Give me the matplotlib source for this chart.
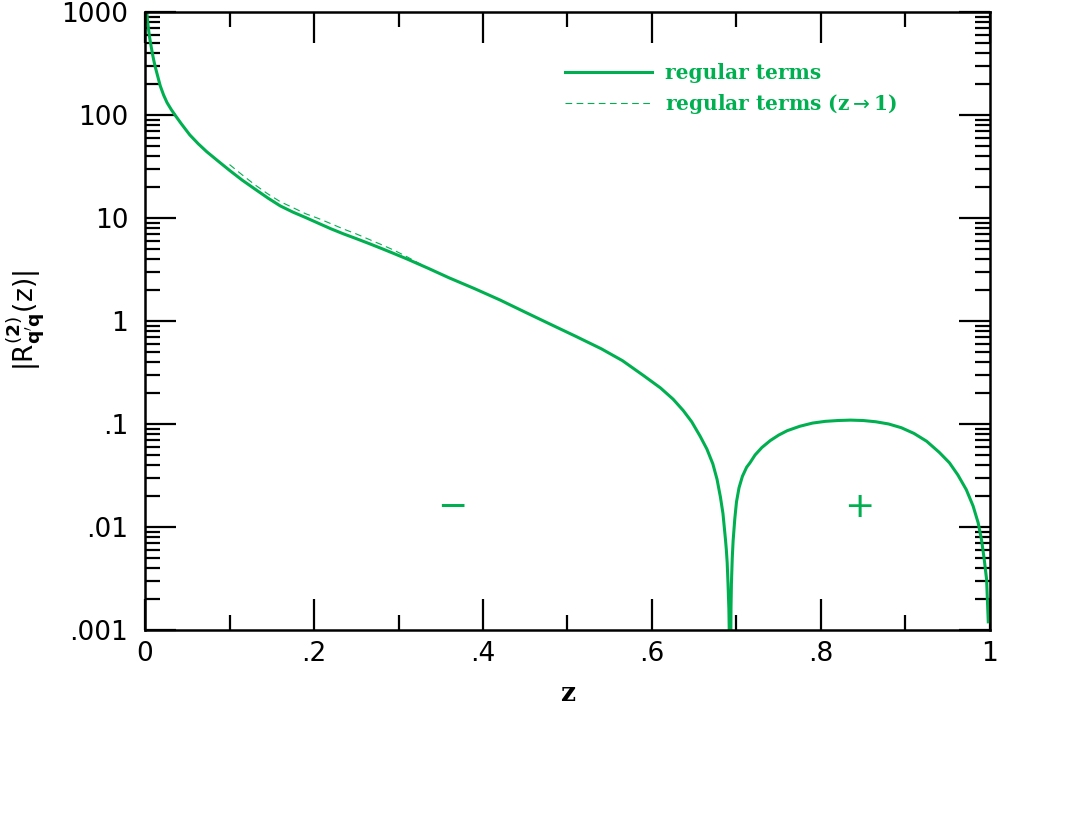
import matplotlib
matplotlib.use("Agg")
import matplotlib.pyplot as plt
from matplotlib.ticker import FixedLocator, LogLocator, NullFormatter

green = '#00b050'

# solid curve: |R(z)|
z_reg = [0.0015, 0.002, 0.003, 0.004, 0.005, 0.006, 0.0075, 0.009, 0.0105, 0.012,
         0.015, 0.018, 0.022, 0.026, 0.031, 0.036, 0.043, 0.053, 0.063, 0.073,
         0.085, 0.1, 0.115, 0.132, 0.146, 0.16, 0.175, 0.19, 0.205, 0.22,
         0.235, 0.25, 0.265, 0.28, 0.295, 0.31, 0.335, 0.36, 0.39, 0.42,
         0.45, 0.48, 0.51, 0.54, 0.565, 0.59, 0.61, 0.625, 0.637, 0.647,
         0.657, 0.665, 0.672, 0.677, 0.681, 0.684, 0.687, 0.688, 0.689, 0.690,
         0.691, 0.6922, 0.6928, 0.6935, 0.694, 0.695, 0.696, 0.698, 0.700, 0.703,
         0.707, 0.712, 0.716, 0.722, 0.73, 0.74, 0.75, 0.76, 0.775, 0.79,
         0.805, 0.82, 0.835, 0.85, 0.865, 0.88, 0.895, 0.91, 0.925, 0.94,
         0.952, 0.962, 0.972, 0.98, 0.986, 0.99, 0.993, 0.996, 0.998]
r_reg = [1400, 1000, 820, 690, 600, 530, 450, 385, 335, 295,
         238, 192, 156, 132, 113, 98.5, 82, 64, 52.5, 44,
         36.5, 29, 23.3, 18.6, 15.5, 13.1, 11.4, 10.1, 8.9, 7.85,
         7.0, 6.3, 5.65, 5.05, 4.5, 4.0, 3.25, 2.62, 2.06, 1.6,
         1.216, 0.927, 0.708, 0.537, 0.412, 0.295, 0.224, 0.174, 0.135, 0.105,
         0.076, 0.057, 0.041, 0.029, 0.0195, 0.0135, 0.0075, 0.006, 0.0045, 0.0028,
         0.0016, 0.0004, 0.0002, 0.0016, 0.0028, 0.005, 0.0073, 0.012, 0.0175, 0.024,
         0.031, 0.038, 0.042, 0.050, 0.059, 0.069, 0.078, 0.086, 0.095, 0.102,
         0.106, 0.108, 0.109, 0.108, 0.105, 0.100, 0.092, 0.081, 0.068, 0.053,
         0.042, 0.032, 0.023, 0.016, 0.011, 0.0075, 0.005, 0.0031, 0.0012]

# dashed curve: z -> 1 approximation
z_lim = [0.1, 0.115, 0.13, 0.145, 0.16, 0.175, 0.19, 0.205, 0.22, 0.235,
         0.25, 0.265, 0.28, 0.295, 0.31, 0.325, 0.34]
r_lim = [33, 26.2, 21, 17.2, 14.4, 12.6, 11.0, 9.9, 8.8, 7.8,
         7.0, 6.2, 5.5, 4.85, 4.2, 3.6, 3.1]

x_ticks = [0, 0.2, 0.4, 0.6, 0.8, 1.0]
x_labels = ['0', '.2', '.4', '.6', '.8', '1']
y_ticks = [0.001, 0.01, 0.1, 1, 10, 100, 1000]
y_labels = ['.001', '.01', '.1', '1', '10', '100', '1000']

fig = plt.figure(figsize=(10.75, 8.3), dpi=100)
ax = fig.add_axes([0.1349, 0.241, 0.786, 0.7446])

ax.plot(z_reg, r_reg, color=green, lw=2.2, label='regular terms')
ax.plot(z_lim, r_lim, color=green, lw=0.8, ls=(0, (6, 4)), label=r'regular terms (z$\rightarrow$1)')

ax.set_yscale('log')
ax.set_xlim(0, 1)
ax.set_ylim(0.001, 1000)

ax.xaxis.set_major_locator(FixedLocator(x_ticks))
ax.xaxis.set_minor_locator(FixedLocator([0.1, 0.3, 0.5, 0.7, 0.9]))
ax.set_xticklabels(x_labels)
ax.yaxis.set_major_locator(FixedLocator(y_ticks))
ax.yaxis.set_minor_locator(LogLocator(base=10, subs=range(2, 10), numticks=20))
ax.yaxis.set_minor_formatter(NullFormatter())
ax.set_yticklabels(y_labels)

ax.tick_params(which='both', direction='in', top=True, right=True, width=1.6, colors='black')
ax.tick_params(which='major', length=22, labelsize=19)
ax.tick_params(which='minor', length=11)
ax.tick_params(axis='x', which='major', pad=8)
ax.tick_params(axis='y', which='major', pad=12)
for s in ax.spines.values():
    s.set_linewidth(1.8)

ax.set_xlabel('z', fontsize=19, fontweight='bold', family='DejaVu Serif', labelpad=10)
ax.set_ylabel(r'$|\mathrm{R}^{(\mathbf{2})}_{\mathbf{q^{\prime}q}}(\mathrm{z})|$', fontsize=19, labelpad=10)

ax.text(0.364, 0.0156, '\u2212', color=green, fontsize=26, ha='center', va='center')
ax.text(0.845, 0.0156, '+', color=green, fontsize=26, ha='center', va='center')

leg = ax.legend(loc='upper left', bbox_to_anchor=(0.497, 0.917), frameon=False,
                borderpad=0, borderaxespad=0, handlelength=4.3, handletextpad=0.65,
                labelspacing=0.45, prop={'family': 'DejaVu Serif', 'weight': 'bold', 'size': 14.5})
for t in leg.get_texts():
    t.set_color(green)

fig.savefig('out.png', dpi=100)
